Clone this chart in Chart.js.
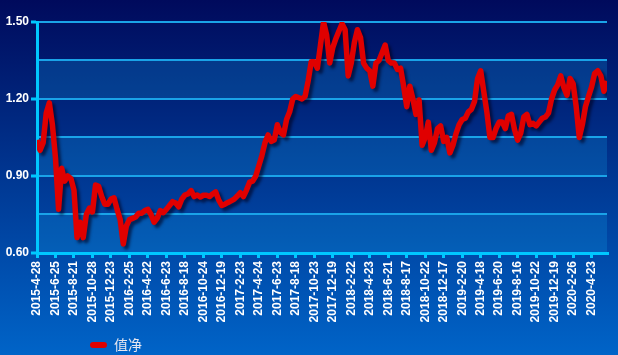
<!DOCTYPE html>
<html>
<head>
<meta charset="utf-8">
<script src="https://cdn.jsdelivr.net/npm/chart.js@4.4.1/dist/chart.umd.min.js"></script>
<style>
  html, body { margin: 0; padding: 0; background: #002a80; }
  #wrap { width: 618px; height: 355px; }
</style>
</head>
<body>
<div id="wrap"><canvas id="navChart"></canvas></div>
<script>
// tick dates along the x axis, one every POINTS_PER_TICK samples
const dateLabels = [
    '2015-4-28', '2015-6-25', '2015-8-21', '2015-10-28', '2015-12-23',
    '2016-2-25', '2016-4-22', '2016-6-23', '2016-8-18', '2016-10-24', '2016-12-19',
    '2017-2-23', '2017-4-24', '2017-6-23', '2017-8-18', '2017-10-23', '2017-12-19',
    '2018-2-22', '2018-4-23', '2018-6-21', '2018-8-17', '2018-10-22', '2018-12-17',
    '2019-2-20', '2019-4-18', '2019-6-20', '2019-8-16', '2019-10-22', '2019-12-19',
    '2020-2-26', '2020-4-23'
];
const POINTS_PER_TICK = 6;

// net value, roughly weekly samples
const navValues = [
    1.04, 1.00, 1.03, 1.145, 1.185, 1.10, 0.97, 0.77, 0.93, 0.88,
    0.90, 0.89, 0.845, 0.66, 0.72, 0.66, 0.75, 0.775, 0.76, 0.865,
    0.86, 0.82, 0.79, 0.79, 0.81, 0.815, 0.77, 0.73, 0.635, 0.705,
    0.73, 0.735, 0.74, 0.755, 0.755, 0.765, 0.77, 0.75, 0.72, 0.735,
    0.765, 0.757, 0.77, 0.785, 0.80, 0.795, 0.78, 0.81, 0.826, 0.83,
    0.843, 0.82, 0.826, 0.818, 0.825, 0.825, 0.82, 0.83, 0.838, 0.806,
    0.785, 0.79, 0.797, 0.803, 0.81, 0.822, 0.835, 0.82, 0.845, 0.876,
    0.88, 0.90, 0.94, 0.98, 1.03, 1.06, 1.035, 1.04, 1.10, 1.07,
    1.06, 1.12, 1.15, 1.20, 1.21, 1.205, 1.20, 1.21, 1.27, 1.345,
    1.345, 1.32, 1.41, 1.50, 1.45, 1.34, 1.40, 1.435, 1.465, 1.493,
    1.47, 1.29, 1.34, 1.42, 1.47, 1.44, 1.34, 1.32, 1.31, 1.25,
    1.34, 1.35, 1.38, 1.41, 1.35, 1.34, 1.34, 1.315, 1.32, 1.25,
    1.17, 1.25, 1.20, 1.14, 1.196, 1.02, 1.05, 1.11, 1.00, 1.03,
    1.085, 1.095, 1.035, 1.05, 0.99, 1.02, 1.065, 1.10, 1.12, 1.125,
    1.15, 1.16, 1.19, 1.28, 1.31, 1.23, 1.15, 1.05, 1.05, 1.085,
    1.11, 1.11, 1.085, 1.135, 1.14, 1.08, 1.04, 1.067, 1.13, 1.14,
    1.10, 1.105, 1.095, 1.11, 1.125, 1.13, 1.145, 1.20, 1.235, 1.255,
    1.29, 1.245, 1.215, 1.28, 1.26, 1.17, 1.05, 1.10, 1.17, 1.21,
    1.247, 1.30, 1.31, 1.29, 1.23, 1.27
];

const Y_MIN = 0.60, Y_MAX = 1.50, Y_STEP = 0.15;
const AXIS_COLOR = '#00c8ff';
const GRID_COLOR = '#1aa3e8';

// labelled y values are every other grid line (0.60, 0.90, 1.20, 1.50)
function isMajor(v) {
    return Math.round(v * 100) % 30 === 0;
}

// page gradient plus the lighter bands above each labelled value
const backdrop = {
    id: 'backdrop',
    beforeDraw(chart) {
        const { ctx, width, height, chartArea: a } = chart;
        const y = chart.scales.y;
        const g = ctx.createLinearGradient(0, 0, 0, height);
        g.addColorStop(0, '#000a5c');
        g.addColorStop(1, '#0064c8');
        ctx.save();
        ctx.fillStyle = g;
        ctx.fillRect(0, 0, width, height);
        ctx.fillStyle = 'rgba(20, 170, 235, 0.22)';
        for (let i = 0; i < y.ticks.length - 1; i++) {
            if (!isMajor(y.ticks[i].value)) continue;
            const bottom = y.getPixelForValue(y.ticks[i].value);
            const top = y.getPixelForValue(y.ticks[i + 1].value);
            ctx.fillRect(a.left, top, a.right - a.left, bottom - top);
        }
        ctx.restore();
    }
};

// dark drop shadow under the red line (and the legend marker)
const lineShadow = {
    id: 'lineShadow',
    beforeDatasetsDraw(chart) {
        const c = chart.ctx;
        c.save();
        c.shadowColor = 'rgba(0, 0, 30, 0.6)';
        c.shadowBlur = 3;
        c.shadowOffsetX = 3;
        c.shadowOffsetY = 3;
    },
    afterDatasetsDraw(chart) {
        chart.ctx.restore();
    }
};

// legend sits lower left, under the first labels
const legendNudge = {
    id: 'legendNudge',
    afterLayout(chart) {
        if (!chart.legend) return;
        chart.legend.left += 87;
        chart.legend.top += 7;
    }
};

const ctx = document.getElementById('navChart').getContext('2d');
new Chart(ctx, {
    type: 'line',
    data: {
        datasets: [{
            label: '值净',
            data: navValues.map((v, i) => ({ x: i, y: v })),
            borderColor: '#e00000',
            backgroundColor: '#e00000',
            borderWidth: 5.5,
            borderJoinStyle: 'round',
            pointRadius: 0,
            tension: 0
        }]
    },
    options: {
        responsive: true,
        maintainAspectRatio: false,
        animation: false,
        layout: { padding: { top: 22, right: 11, left: 0, bottom: 0 } },
        plugins: {
            tooltip: { enabled: false },
            legend: {
                position: 'bottom',
                align: 'start',
                labels: {
                    boxWidth: 17,
                    boxHeight: 6,
                    useBorderRadius: true,
                    borderRadius: 3,
                    padding: 3,
                    color: '#e6e6f0',
                    font: { family: '"Noto Sans CJK SC", sans-serif', size: 14 },
                    generateLabels(chart) {
                        return Chart.defaults.plugins.legend.labels.generateLabels(chart)
                            .map(item => Object.assign(item, { lineWidth: 0 }));
                    }
                }
            }
        },
        scales: {
            x: {
                type: 'linear',
                min: 0,
                max: navValues.length - 1,
                afterBuildTicks(scale) {
                    scale.ticks = dateLabels.map((d, i) => ({ value: i * POINTS_PER_TICK }));
                },
                afterFit(scale) {
                    const leg = scale.chart.legend;
                    scale.height = 355 - 253 - (leg && leg.height ? leg.height : 27);
                },
                ticks: {
                    autoSkip: false,
                    minRotation: 90,
                    maxRotation: 90,
                    padding: 3,
                    color: '#ffffff',
                    font: { family: 'Arial, "Liberation Sans", sans-serif', size: 12, weight: 'bold' },
                    callback: (v) => dateLabels[Math.round(v / POINTS_PER_TICK)] || ''
                },
                grid: {
                    drawOnChartArea: false,
                    tickLength: 5,
                    lineWidth: 3,
                    color: AXIS_COLOR
                },
                border: { display: true, color: AXIS_COLOR, width: 3 }
            },
            y: {
                min: Y_MIN,
                max: Y_MAX,
                afterFit(scale) {
                    scale.width = 37;
                },
                ticks: {
                    stepSize: Y_STEP,
                    padding: 2,
                    color: '#ffffff',
                    font: { family: 'Arial, "Liberation Sans", sans-serif', size: 12, weight: 'bold' },
                    callback: (v) => isMajor(v) ? Number(v).toFixed(2) : ''
                },
                grid: {
                    tickLength: 6,
                    lineWidth: 2,
                    tickWidth: 3,
                    color: GRID_COLOR,
                    tickColor: (c) => (c.tick && isMajor(c.tick.value)) ? AXIS_COLOR : 'transparent'
                },
                border: { display: true, color: AXIS_COLOR, width: 3 }
            }
        }
    },
    plugins: [backdrop, lineShadow, legendNudge]
});
</script>
</body>
</html>
